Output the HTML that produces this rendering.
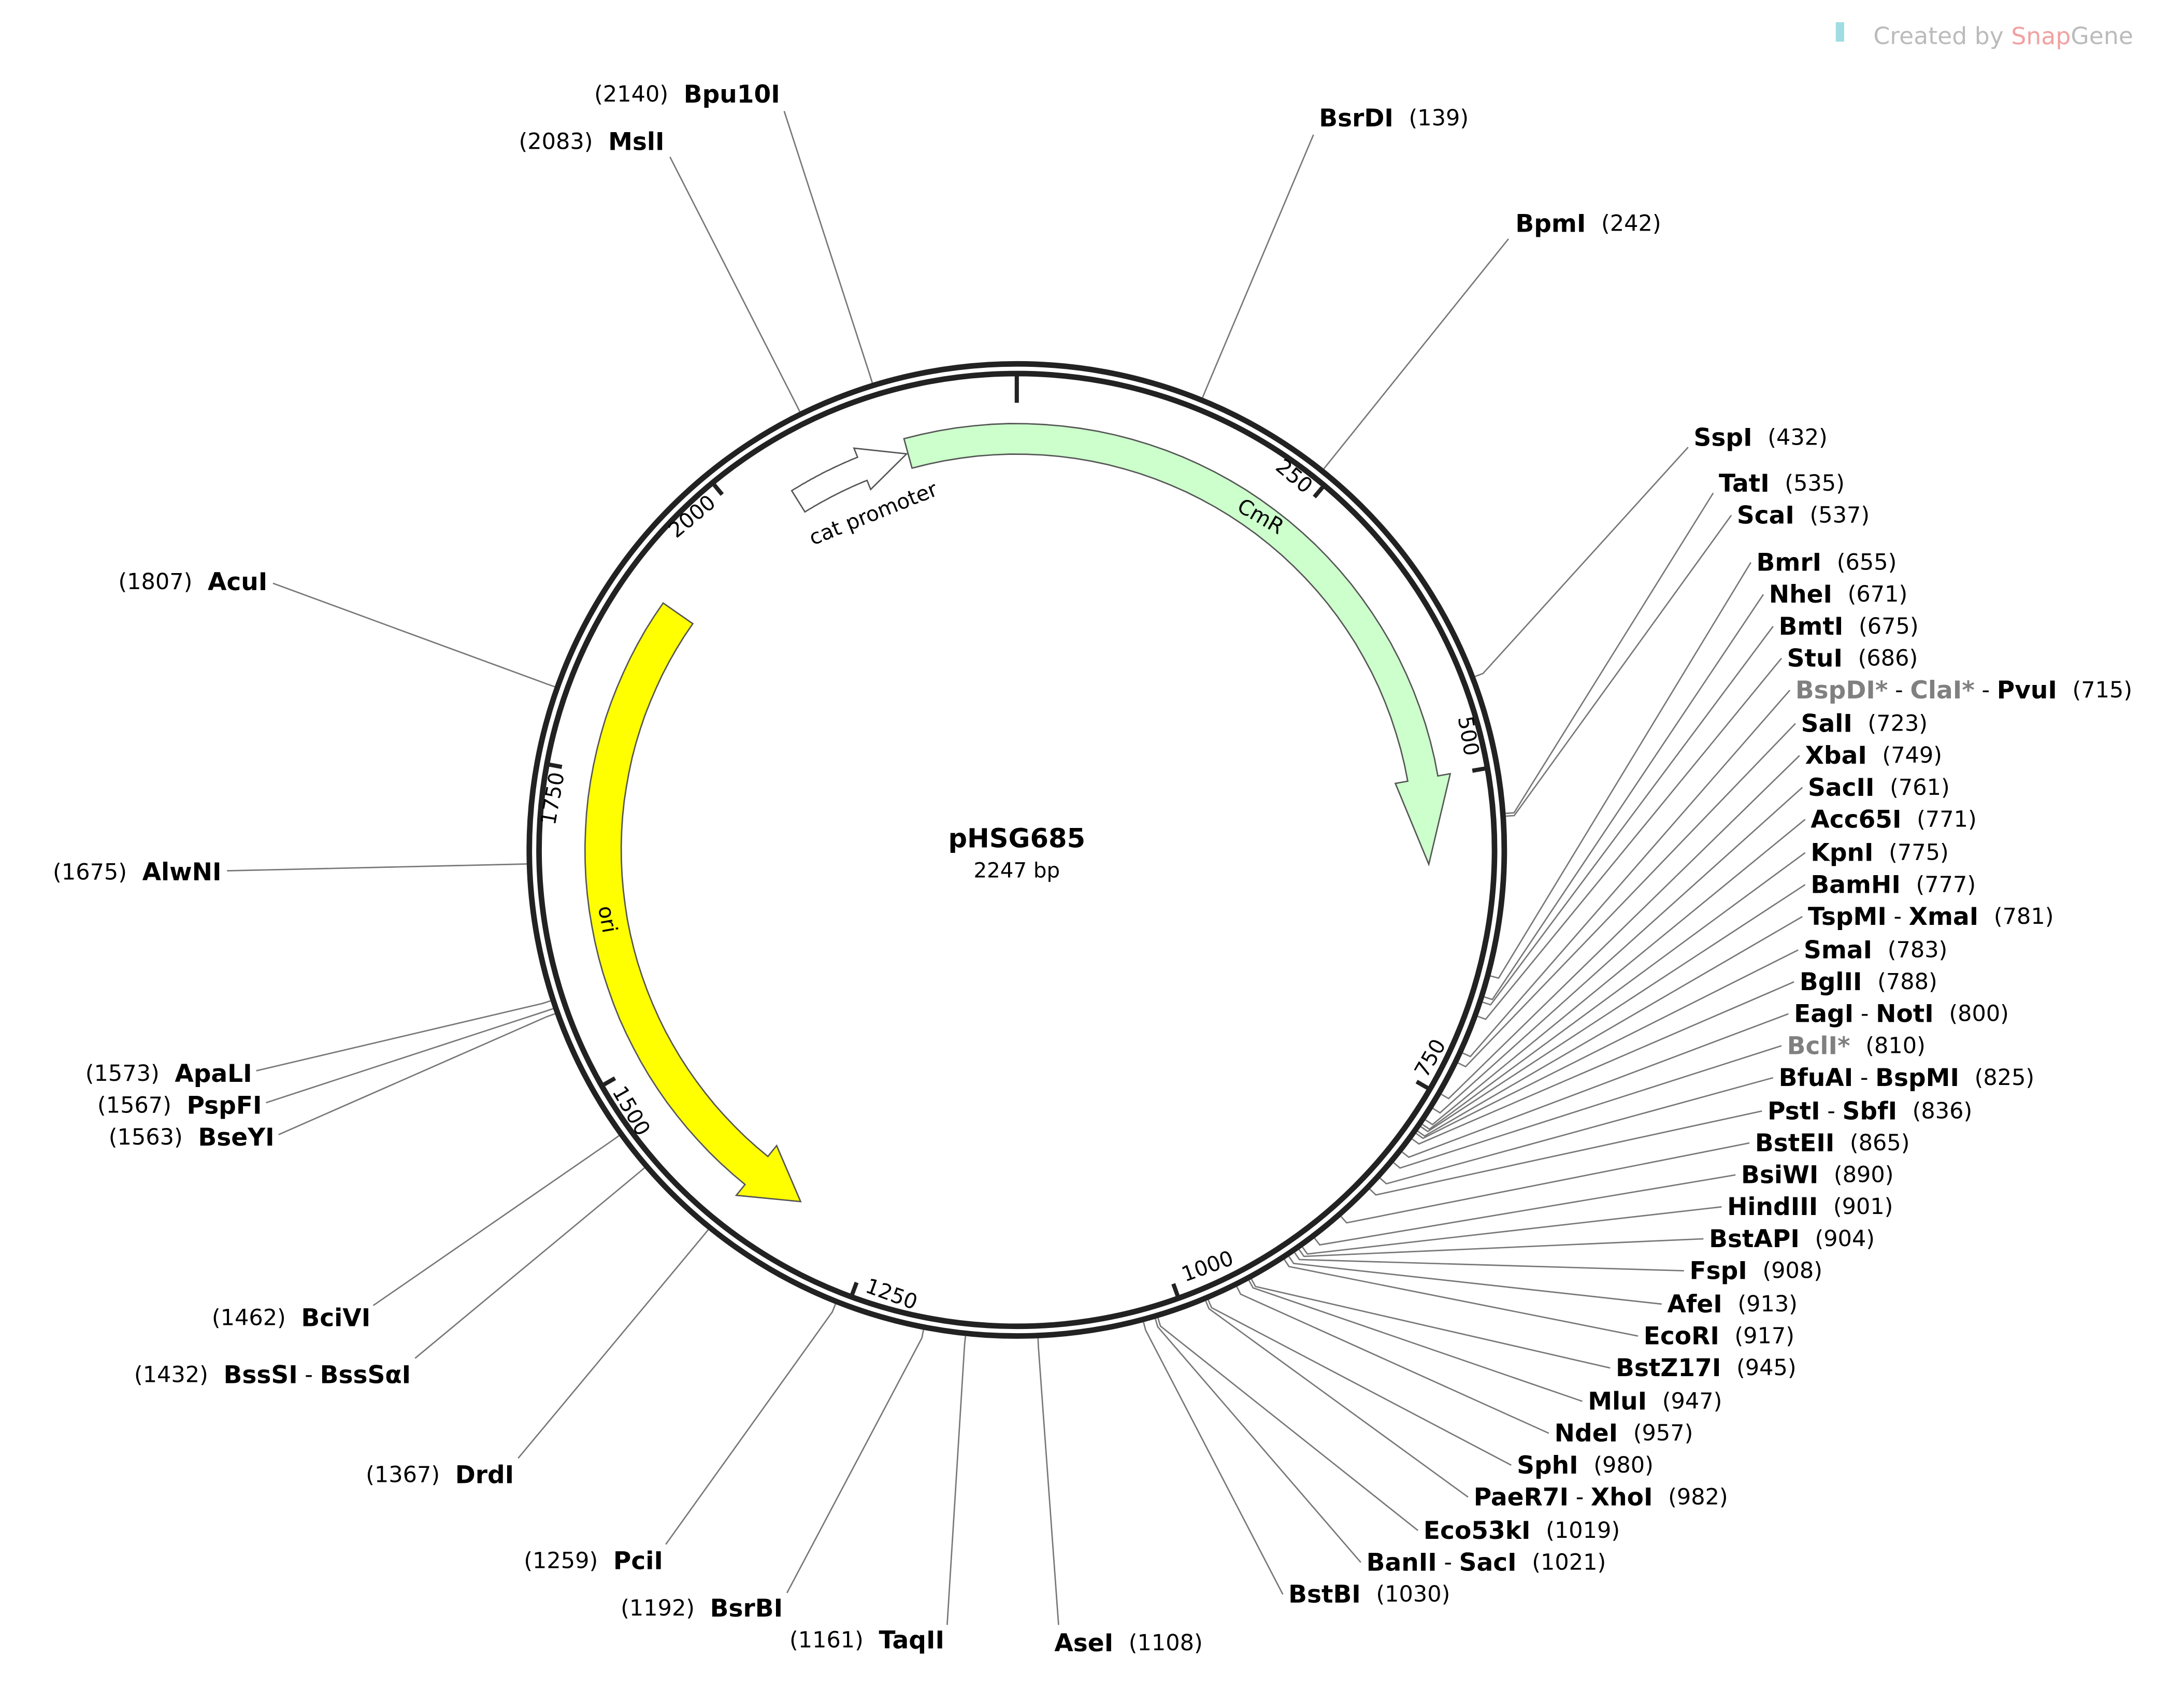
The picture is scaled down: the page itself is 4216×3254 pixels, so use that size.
<!DOCTYPE html>
<html><head><meta charset="utf-8"><style>
html,body{margin:0;padding:0;background:#fff;}
svg{display:block;}
text{font-family:"DejaVu Sans","Liberation Sans",sans-serif;}
.l{font-size:16px;fill:#000;dominant-baseline:central;}
.l tspan.b{font-weight:bold;font-size:17.5px;}
.g{fill:#808080;}
.t{font-size:15px;dominant-baseline:central;text-anchor:middle;}
</style></head><body>
<svg id="s" width="4216" height="3254" viewBox="0 0 1568 1214" preserveAspectRatio="none" xmlns="http://www.w3.org/2000/svg">
<rect width="1568" height="1214" fill="#fff"/>
<g id="lines" stroke="#777" stroke-width="1" fill="none"></g>
<g id="feat"></g>
<circle cx="730" cy="612" r="350" fill="none" stroke="#222" stroke-width="4"/>
<circle cx="730" cy="612" r="343" fill="none" stroke="#222" stroke-width="4"/>
<g id="ticks" stroke="#222" stroke-width="3"></g>
<text class="t" transform="translate(929,343) rotate(40)">250</text>
<text class="t" transform="translate(1054,530) rotate(80)">500</text>
<text class="t" transform="translate(1027,762) rotate(-60)">750</text>
<text class="t" transform="translate(867,912) rotate(-20)">1000</text>
<text class="t" transform="translate(640,932) rotate(20)">1250</text>
<text class="t" transform="translate(453,800) rotate(60)">1500</text>
<text class="t" transform="translate(397,575) rotate(-80)">1750</text>
<text class="t" transform="translate(497,372) rotate(-40)">2000</text>
<text class="t" transform="translate(905,372) rotate(30)">CmR</text>
<text class="t" transform="translate(627,370) rotate(-22)">cat promoter</text>
<text class="t" transform="translate(436,662) rotate(80)">ori</text>
<text x="730" y="604" text-anchor="middle" style="font-size:19px;font-weight:bold;dominant-baseline:central">pHSG685</text>
<text x="730" y="627" text-anchor="middle" style="font-size:15px;dominant-baseline:central">2247 bp</text>
<text x="1345" y="26" style="font-size:17px;fill:#bbb;dominant-baseline:central">Created by <tspan fill="#f2a0a0">Snap</tspan>Gene</text>
<rect x="1318" y="16" width="6" height="14" fill="#9fdde3"/>

<g>
<text class="l" x="947" y="85"><tspan class="b">BsrDI</tspan><tspan dx="11">(139)</tspan></text>
<text class="l" x="1088" y="161"><tspan class="b">BpmI</tspan><tspan dx="11">(242)</tspan></text>
<text class="l" x="1216" y="315"><tspan class="b">SspI</tspan><tspan dx="11">(432)</tspan></text>
<text class="l" x="1234" y="348"><tspan class="b">TatI</tspan><tspan dx="11">(535)</tspan></text>
<text class="l" x="1247" y="371"><tspan class="b">ScaI</tspan><tspan dx="11">(537)</tspan></text>
<text class="l" x="1261" y="405"><tspan class="b">BmrI</tspan><tspan dx="11">(655)</tspan></text>
<text class="l" x="1270" y="428"><tspan class="b">NheI</tspan><tspan dx="11">(671)</tspan></text>
<text class="l" x="1277" y="451"><tspan class="b">BmtI</tspan><tspan dx="11">(675)</tspan></text>
<text class="l" x="1283" y="474"><tspan class="b">StuI</tspan><tspan dx="11">(686)</tspan></text>
<text class="l" x="1289" y="497"><tspan class="b g">BspDI*</tspan> - <tspan class="b g">ClaI*</tspan> - <tspan class="b">PvuI</tspan><tspan dx="11">(715)</tspan></text>
<text class="l" x="1293" y="521"><tspan class="b">SalI</tspan><tspan dx="11">(723)</tspan></text>
<text class="l" x="1296" y="544"><tspan class="b">XbaI</tspan><tspan dx="11">(749)</tspan></text>
<text class="l" x="1298" y="567"><tspan class="b">SacII</tspan><tspan dx="11">(761)</tspan></text>
<text class="l" x="1300" y="590"><tspan class="b">Acc65I</tspan><tspan dx="11">(771)</tspan></text>
<text class="l" x="1300" y="614"><tspan class="b">KpnI</tspan><tspan dx="11">(775)</tspan></text>
<text class="l" x="1300" y="637"><tspan class="b">BamHI</tspan><tspan dx="11">(777)</tspan></text>
<text class="l" x="1298" y="660"><tspan class="b">TspMI</tspan> - <tspan class="b">XmaI</tspan><tspan dx="11">(781)</tspan></text>
<text class="l" x="1295" y="684"><tspan class="b">SmaI</tspan><tspan dx="11">(783)</tspan></text>
<text class="l" x="1292" y="707"><tspan class="b">BglII</tspan><tspan dx="11">(788)</tspan></text>
<text class="l" x="1288" y="730"><tspan class="b">EagI</tspan> - <tspan class="b">NotI</tspan><tspan dx="11">(800)</tspan></text>
<text class="l" x="1283" y="753"><tspan class="b g">BclI*</tspan><tspan dx="11">(810)</tspan></text>
<text class="l" x="1277" y="776"><tspan class="b">BfuAI</tspan> - <tspan class="b">BspMI</tspan><tspan dx="11">(825)</tspan></text>
<text class="l" x="1269" y="800"><tspan class="b">PstI</tspan> - <tspan class="b">SbfI</tspan><tspan dx="11">(836)</tspan></text>
<text class="l" x="1260" y="823"><tspan class="b">BstEII</tspan><tspan dx="11">(865)</tspan></text>
<text class="l" x="1250" y="846"><tspan class="b">BsiWI</tspan><tspan dx="11">(890)</tspan></text>
<text class="l" x="1240" y="869"><tspan class="b">HindIII</tspan><tspan dx="11">(901)</tspan></text>
<text class="l" x="1227" y="892"><tspan class="b">BstAPI</tspan><tspan dx="11">(904)</tspan></text>
<text class="l" x="1213" y="915"><tspan class="b">FspI</tspan><tspan dx="11">(908)</tspan></text>
<text class="l" x="1197" y="939"><tspan class="b">AfeI</tspan><tspan dx="11">(913)</tspan></text>
<text class="l" x="1180" y="962"><tspan class="b">EcoRI</tspan><tspan dx="11">(917)</tspan></text>
<text class="l" x="1160" y="985"><tspan class="b">BstZ17I</tspan><tspan dx="11">(945)</tspan></text>
<text class="l" x="1140" y="1009"><tspan class="b">MluI</tspan><tspan dx="11">(947)</tspan></text>
<text class="l" x="1116" y="1032"><tspan class="b">NdeI</tspan><tspan dx="11">(957)</tspan></text>
<text class="l" x="1089" y="1055"><tspan class="b">SphI</tspan><tspan dx="11">(980)</tspan></text>
<text class="l" x="1058" y="1078"><tspan class="b">PaeR7I</tspan> - <tspan class="b">XhoI</tspan><tspan dx="11">(982)</tspan></text>
<text class="l" x="1022" y="1102"><tspan class="b">Eco53kI</tspan><tspan dx="11">(1019)</tspan></text>
<text class="l" x="981" y="1125"><tspan class="b">BanII</tspan> - <tspan class="b">SacI</tspan><tspan dx="11">(1021)</tspan></text>
<text class="l" x="925" y="1148"><tspan class="b">BstBI</tspan><tspan dx="11">(1030)</tspan></text>
<text class="l" x="757" y="1183"><tspan class="b">AseI</tspan><tspan dx="11">(1108)</tspan></text>
</g>
<g text-anchor="end">
<text class="l" x="678" y="1181">(1161)<tspan class="b" dx="11">TaqII</tspan></text>
<text class="l" x="562" y="1158">(1192)<tspan class="b" dx="11">BsrBI</tspan></text>
<text class="l" x="476" y="1124">(1259)<tspan class="b" dx="11">PciI</tspan></text>
<text class="l" x="369" y="1062">(1367)<tspan class="b" dx="11">DrdI</tspan></text>
<text class="l" x="295" y="990">(1432)<tspan class="b" dx="11">BssSI</tspan> - <tspan class="b">BssSαI</tspan></text>
<text class="l" x="266" y="949">(1462)<tspan class="b" dx="11">BciVI</tspan></text>
<text class="l" x="197" y="819">(1563)<tspan class="b" dx="11">BseYI</tspan></text>
<text class="l" x="188" y="796">(1567)<tspan class="b" dx="11">PspFI</tspan></text>
<text class="l" x="181" y="773">(1573)<tspan class="b" dx="11">ApaLI</tspan></text>
<text class="l" x="159" y="628">(1675)<tspan class="b" dx="11">AlwNI</tspan></text>
<text class="l" x="192" y="419">(1807)<tspan class="b" dx="11">AcuI</tspan></text>
<text class="l" x="477" y="102">(2083)<tspan class="b" dx="11">MslI</tspan></text>
<text class="l" x="560" y="68">(2140)<tspan class="b" dx="11">Bpu10I</tspan></text>
</g>
</svg>
<script>
(function(){
var NS="http://www.w3.org/2000/svg",cx=730,cy=612,N=2247;
function pt(a,r){var t=a*Math.PI/180;return [cx+r*Math.sin(t),cy-r*Math.cos(t)];}
function ang(p){return p/N*360;}
var L=[[139,943,97],[242,1083,172],[432,1212,322],[535,1230,355],[537,1243,371],[655,1257,405],[671,1266,428],[675,1273,451],[686,1279,474],[715,1285,497],[723,1289,521],[749,1292,544],[761,1294,567],[771,1296,590],[775,1296,614],[777,1296,637],[781,1294,660],[783,1291,684],[788,1288,707],[800,1284,730],[810,1279,753],[825,1273,776],[836,1265,800],[865,1256,823],[890,1246,846],[901,1236,869],[904,1223,892],[908,1209,915],[913,1193,939],[917,1176,962],[945,1156,985],[947,1136,1009],[957,1112,1032],[980,1085,1055],[982,1054,1078],[1019,1018,1102],[1021,977,1125],[1030,921,1148],[1108,760,1170],[1161,680,1170],[1192,565,1147],[1259,478,1112],[1367,372,1050],[1432,298,978],[1462,268,940],[1563,200,817],[1567,191,794],[1573,184,771],[1675,163,627],[1807,196,420],[2083,481,113],[2140,563,80]];
var g=document.getElementById("lines"),d="";
L.forEach(function(l){var a=ang(l[0]),p0=pt(a,352),p1=pt(a,358);d+="M"+p0[0]+","+p0[1]+"L"+p1[0]+","+p1[1]+"L"+l[1]+","+l[2];});
var pa=document.createElementNS(NS,"path");pa.setAttribute("d",d);g.appendChild(pa);
var tk=document.getElementById("ticks"),td="";
[0,250,500,750,1000,1250,1500,1750,2000].forEach(function(p){var a=ang(p),r1=p==0?322:332,p0=pt(a,343),p1=pt(a,r1);td+="M"+p0+"L"+p1;});
var tp=document.createElementNS(NS,"path");tp.setAttribute("d",td);tk.appendChild(tp);
function arrow(a0,a1,ri,ro,headA,hi,ho,fill){
 var m=(ri+ro)/2,n=40,i;
 var s=[];for(i=0;i<=n;i++){var a=a0+(headA-a0)*i/n;s.push(pt(a,ro));}
 var e=[];for(i=n;i>=0;i--){var a=a0+(headA-a0)*i/n;e.push(pt(a,ri));}
 var pts=s.concat([pt(headA,ho),pt(a1,m),pt(headA,hi)]).concat(e);
 var p=document.createElementNS(NS,"polygon");
 p.setAttribute("points",pts.map(function(q){return q[0].toFixed(1)+","+q[1].toFixed(1)}).join(" "));
 p.setAttribute("fill",fill);p.setAttribute("stroke","#555");p.setAttribute("stroke-width","1");
 document.getElementById("feat").appendChild(p);
}
arrow(-15.3,92,285,307,80,276,316,"#ccffcc");
arrow(-32,-15.5,287,305,-22,280,312,"#ffffff");
arrow(-55,-148.5,284,310,-141,274,320,"#ffff00");
})();
</script>
</body></html>
